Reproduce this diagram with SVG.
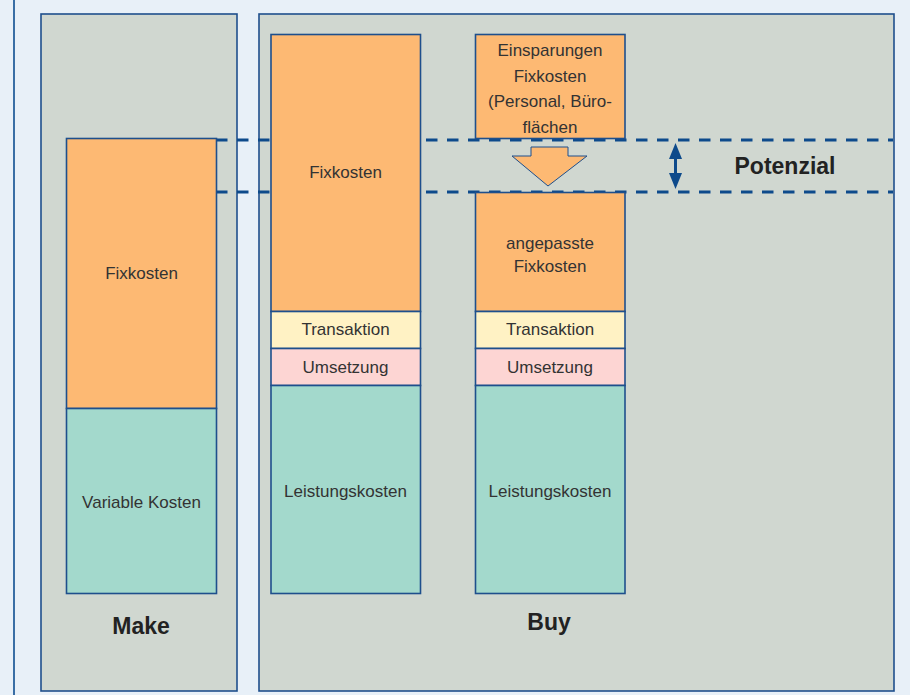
<svg xmlns="http://www.w3.org/2000/svg" width="910" height="695" viewBox="0 0 910 695">
<style>
.panel{fill:#D0D7D0;stroke:#1E4F8C;stroke-width:1.6}
.box{stroke:#1E4F8C;stroke-width:1.6}
.or{fill:#FDB973}
.tr{fill:#FFF2C4}
.um{fill:#FDD5D3}
.le{fill:#A3D9CC}
.t{font-family:"Liberation Sans",Arial,sans-serif;font-size:17px;fill:#333;text-anchor:middle}
.b{font-family:"Liberation Sans",Arial,sans-serif;font-size:23px;font-weight:bold;fill:#222;text-anchor:middle}
.dash{stroke:#0D4A8B;stroke-width:3;stroke-dasharray:11.5 9.5;fill:none}
</style>
<rect x="0" y="0" width="910" height="695" fill="#E8F0F8"/>
<line x1="14" y1="0" x2="14" y2="695" stroke="#3A6EA5" stroke-width="2"/>
<g id="make-panel"><rect class="panel" x="41" y="14" width="196" height="677"/>
<text class="b" x="141" y="634">Make</text></g>
<g id="buy-panel"><rect class="panel" x="259" y="14" width="635" height="677"/>
<text class="b" x="549" y="630">Buy</text></g>
<g id="connectors">
<line class="dash" x1="216" y1="140" x2="893" y2="140"/>
<line class="dash" x1="216" y1="192" x2="893" y2="192"/>
<g id="potenzial-arrow" fill="#0D4A8B">
<rect x="674" y="155" width="3" height="22"/>
<polygon points="675.5,143 669,159 682,159"/>
<polygon points="675.5,189 669,173 682,173"/>
</g>
<polygon id="down-arrow" points="531,147 568,147 568,156 587,156 548,186 512,156 531,156" fill="#FDB973" stroke="#1E4F8C" stroke-width="1"/>
</g>
<g id="make-fix"><rect class="box or" x="66.5" y="138.5" width="150" height="270"/><text class="t" x="141.5" y="279">Fixkosten</text></g>
<g id="make-var"><rect class="box le" x="66.5" y="408.5" width="150" height="185"/><text class="t" x="141.5" y="508">Variable Kosten</text></g>
<g id="buy-fix"><rect class="box or" x="271" y="34.5" width="149.5" height="277"/><text class="t" x="345.5" y="178">Fixkosten</text></g>
<g id="buy-tr"><rect class="box tr" x="271" y="311.5" width="149.5" height="37"/><text class="t" x="345.5" y="335">Transaktion</text></g>
<g id="buy-um"><rect class="box um" x="271" y="348.5" width="149.5" height="37"/><text class="t" x="345.5" y="373">Umsetzung</text></g>
<g id="buy-le"><rect class="box le" x="271" y="385.5" width="149.5" height="208"/><text class="t" x="345.5" y="497">Leistungskosten</text></g>
<g id="einsparungen"><rect class="box or" x="475.5" y="34.5" width="149.5" height="104"/>
<text class="t" x="550" y="56">Einsparungen</text>
<text class="t" x="550" y="82">Fixkosten</text>
<text class="t" x="550" y="107">(Personal, Büro-</text>
<text class="t" x="550" y="133">flächen</text></g>
<g id="angepasst"><rect class="box or" x="475.5" y="192.5" width="149.5" height="119"/>
<text class="t" x="550" y="249">angepasste</text>
<text class="t" x="550" y="272">Fixkosten</text></g>
<g id="buy2-tr"><rect class="box tr" x="475.5" y="311.5" width="149.5" height="37"/><text class="t" x="550" y="335">Transaktion</text></g>
<g id="buy2-um"><rect class="box um" x="475.5" y="348.5" width="149.5" height="37"/><text class="t" x="550" y="373">Umsetzung</text></g>
<g id="buy2-le"><rect class="box le" x="475.5" y="385.5" width="149.5" height="208"/><text class="t" x="550" y="497">Leistungskosten</text></g>
<text class="b" x="785" y="174">Potenzial</text>
</svg>
